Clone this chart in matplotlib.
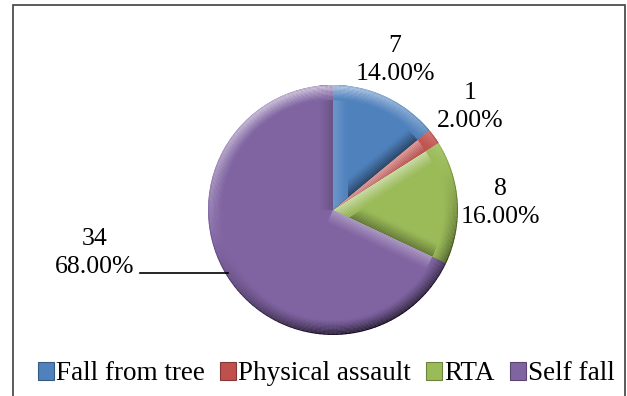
import matplotlib
matplotlib.use("Agg")
import matplotlib.pyplot as plt
from matplotlib.patches import Wedge, Rectangle, Polygon
from matplotlib.lines import Line2D
import matplotlib.colors as mcolors
import numpy as np

categories = ["Fall from tree", "Physical assault", "RTA", "Self fall"]
counts = [7, 1, 8, 34]
percents = ["14.00%", "2.00%", "16.00%", "68.00%"]
colors = ["#4F81BD", "#C0504D", "#9BBB59", "#8064A2"]

W, H = 627, 396
cx, cy, R = 333, 210, 125  # pixel geometry

fig = plt.figure(figsize=(W / 100, H / 100), dpi=100)
ax = fig.add_axes([0, 0, 1, 1])

def px(x, y):
    return (x - cx) / R, (cy - y) / R

serif = ["Liberation Serif", "DejaVu Serif"]

def shade(c, f):
    r, g, b = mcolors.to_rgb(c)
    f = max(-1, min(1, f))
    if f >= 0:
        return (r + (1 - r) * f, g + (1 - g) * f, b + (1 - b) * f)
    f = -f
    return (r * (1 - f), g * (1 - f), b * (1 - f))

wedges, _ = ax.pie(counts, colors=colors, startangle=90, counterclock=False,
                   radius=1, center=(0, 0), frame=True,
                   wedgeprops=dict(linewidth=0))
ax.set_xlim(-cx / R, (W - cx) / R)
ax.set_ylim(-(H - cy) / R, cy / R)
ax.set_aspect("equal")
ax.axis("off")

# bevel effect (light from the top, slightly left)
Lv = np.array([-0.35, 1.0])
Lv = Lv / np.linalg.norm(Lv)
bevel = 0.12
nb = 12

def strength(s, d, amp):
    # s: 0 at outer edge .. 1 at inner end of bevel
    return d * amp * (1 - s) ** 1.2

for w, c in zip(wedges, colors):
    t1, t2 = w.theta1, w.theta2
    # radial edges
    for t, sign in [(t1, -1), (t2, 1)]:
        a = np.deg2rad(t)
        dvec = np.array([np.cos(a), np.sin(a)])
        nrm = np.array([np.cos(a + sign * np.pi / 2), np.sin(a + sign * np.pi / 2)])
        d = nrm @ Lv
        inward = -nrm
        for k in range(nb):
            o0 = k * bevel / nb
            o1 = (k + 1.05) * bevel / nb
            s = (k + 0.5) / nb
            col = shade(c, strength(s, d, 0.55))
            pts = [inward * o0, dvec * 1.05 + inward * o0,
                   dvec * 1.05 + inward * o1, inward * o1]
            p = Polygon(pts, closed=True, facecolor=col, edgecolor="none", zorder=3)
            ax.add_patch(p)
            p.set_clip_path(w)
    # outer arc
    angs = np.append(np.arange(t1, t2, 2.0), t2)
    for a0, a1 in zip(angs[:-1], angs[1:]):
        am = np.deg2rad((a0 + a1) / 2)
        d = np.array([np.cos(am), np.sin(am)]) @ Lv
        for k in range(nb):
            s = (k + 0.5) / nb
            r_out = 1 - k * bevel / nb
            col = shade(c, strength(s, d, 0.7) + (-0.15 if k == 0 else 0))
            p = Wedge((0, 0), r_out, a0 - 0.3, a1 + 0.3, width=bevel / nb * 1.1,
                      facecolor=col, edgecolor="none", zorder=4)
            ax.add_patch(p)
            p.set_clip_path(w)

# labels
label_pos = [px(395, 60), px(470, 107), px(500, 203), px(95, 253)]
for (x, y), n, p in zip(label_pos, counts, percents):
    ax.text(x, y, f"{n}\n{p}", ha="center", va="center", fontsize=18.5,
            family=serif, linespacing=1.38, zorder=5)

# leader line for the big slice
x0, y0 = px(140, 273)
x1, y1 = px(228, 273)
ax.add_line(Line2D([x0, x1], [y0, y1], color="black", lw=1.2, zorder=5))

# frame
fig.patches.append(Rectangle((12.5 / W, -10 / H), (625 - 12.5) / W, (391 + 10) / H,
                             transform=fig.transFigure, fill=False,
                             edgecolor="#404040", lw=1.2))

handles = [Rectangle((0, 0), 1, 1, facecolor=c, edgecolor=shade(c, -0.3), lw=0.8)
           for c in colors]
leg = fig.legend(handles, categories, loc="center", bbox_to_anchor=((36 + 617) / 2 / W, (H - 374) / H),
                 ncol=4, frameon=False, prop={"family": serif, "size": 19.5},
                 handlelength=0.6, handleheight=0.6, handletextpad=0.08,
                 columnspacing=0.55, borderpad=0)

fig.savefig("out.png", dpi=100)
